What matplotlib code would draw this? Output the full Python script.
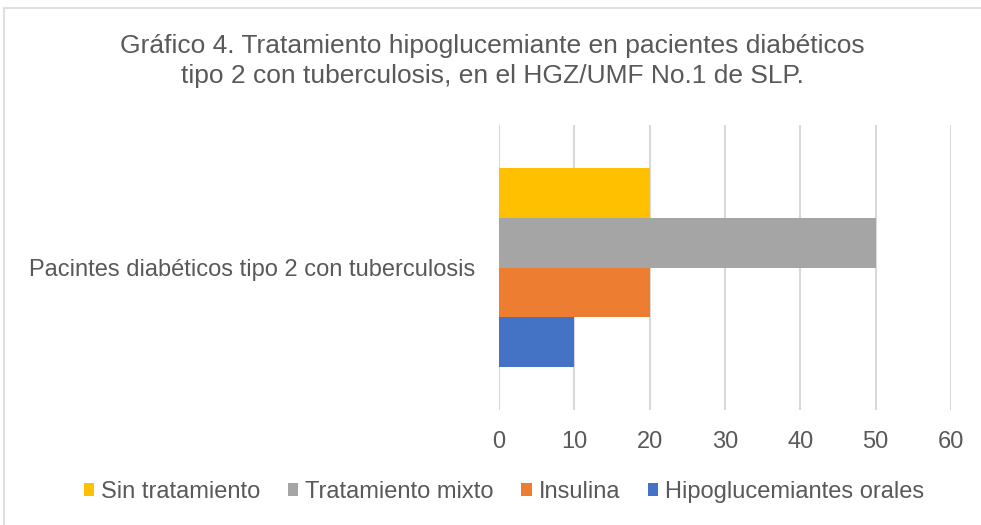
import matplotlib.pyplot as plt
from matplotlib.patches import Rectangle

plt.rcParams['font.family'] = ['Liberation Sans', 'DejaVu Sans']

category = 'Pacintes diabéticos tipo 2 con tuberculosis'
series = ['Sin tratamiento', 'Tratamiento mixto', 'Insulina', 'Hipoglucemiantes orales']
values = [20, 50, 20, 10]
colors = ['#FFC000', '#A5A5A5', '#ED7D31', '#4472C4']
xticks = [0, 10, 20, 30, 40, 50, 60]

text_color = '#595959'

fig = plt.figure(figsize=(9.81, 5.25), dpi=100)
ax = fig.add_axes([499/981, 1 - 410/525, 452/981, 285/525])

# bars stacked top to bottom within one category group
bar_h = 0.174
n = len(series)
for i, (s, v, c) in enumerate(zip(series, values, colors)):
    y = (n - 1) / 2 * bar_h - i * bar_h
    ax.barh(y, v, height=bar_h, color=c, label=s, zorder=3)

ax.set_ylim(-0.5, 0.5)
ax.set_xlim(0, 60)
ax.set_xticks(xticks)
ax.set_yticks([0])
ax.set_yticklabels([category])
ax.grid(axis='x', color='#D9D9D9', linewidth=1.5, zorder=0)
for sp in ax.spines.values():
    sp.set_visible(False)
ax.tick_params(axis='both', length=0, labelsize=17, colors=text_color)
ax.tick_params(axis='x', pad=15)
ax.tick_params(axis='y', pad=17)

fig.text(0.502, 1 - 61/525,
         'Gráfico 4. Tratamiento hipoglucemiante en pacientes diabéticos\n'
         'tipo 2 con tuberculosis, en el HGZ/UMF No.1 de SLP.',
         ha='center', va='center', fontsize=19, color=text_color, linespacing=1.35)

handles, labels = ax.get_legend_handles_labels()
fig.legend(handles, labels, loc='center', bbox_to_anchor=(504/981, 1 - 492/525),
           ncol=4, frameon=False, fontsize=17, labelcolor=text_color,
           handlelength=0.45, handleheight=0.45, handletextpad=0.3, columnspacing=1.15)

# chart area border
fig.patches.append(Rectangle((4/981, -0.1), 1.2, 1.1 - 8/525, transform=fig.transFigure,
                             fill=False, edgecolor='#D9D9D9', linewidth=1.2))

fig.savefig('out.png', dpi=100)
